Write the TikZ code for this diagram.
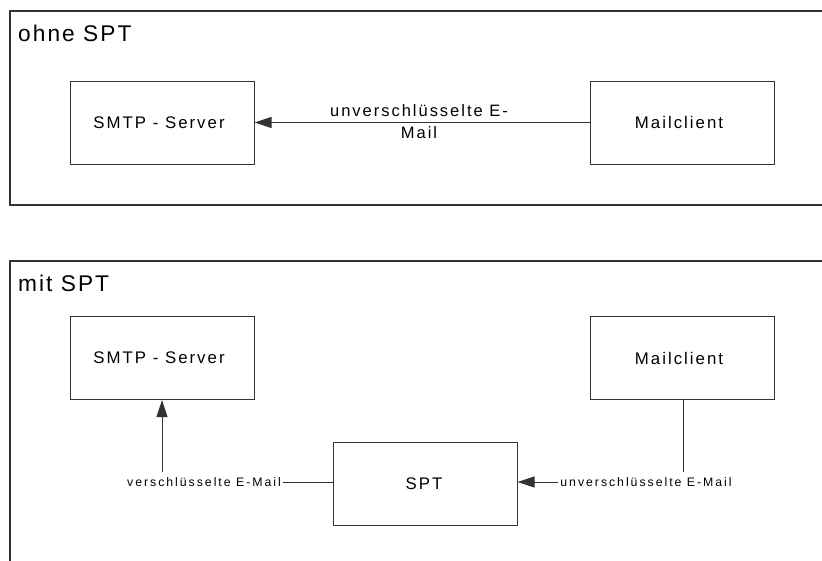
\documentclass[tikz,border=0pt]{standalone}
\usepackage{fontspec}
\setmainfont{Liberation Sans}
\newfontfamily\titlefont{Liberation Sans}[LetterSpace=9]
\newfontfamily\boxfont{Liberation Sans}[LetterSpace=12]
\newfontfamily\smallfont{Liberation Sans}[LetterSpace=16]
\usetikzlibrary{arrows.meta}

\begin{document}
\begin{tikzpicture}[x=1pt, y=-1pt,
  frame/.style={draw=black!80, line width=1.4pt},
  framelabel/.style={anchor=base west, inner sep=0pt, font=\titlefont\fontsize{22.7}{26}\selectfont},
  box/.style={draw=black!80, line width=1pt, minimum width=184pt, minimum height=83pt,
              inner sep=0pt, font=\boxfont\fontsize{16.8}{21.5}\selectfont},
  midlabel/.style={align=center, inner sep=0pt, font=\boxfont\fontsize{16.5}{21.5}\selectfont},
  sidelabel/.style={fill=white, inner xsep=2pt, inner ysep=0pt, minimum height=20pt,
                    font=\smallfont\fontsize{12.3}{14}\selectfont},
  conn/.style={draw=black!80, line width=1pt},
  arr/.style={conn, -{Triangle[length=17pt, width=11pt]}}]

\useasboundingbox (0,0) rectangle (822,560);
\clip (0,0) rectangle (822,560);

% --- without SPT: the mail client talks to the SMTP server directly
\draw[frame] (10,11) rectangle (840,205);
\node[framelabel] (titleA) at (18,41.5) {ohne SPT};

\node[box] (smtpA) at (162,122.5) {SMTP - Server\hspace*{6pt}};
\node[box] (mailA) at (682,122.5) {Mailclient\hspace*{6pt}};
\draw[arr] (mailA) -- (smtpA);
\node[midlabel] (plainA) at (419,121.5) {unverschlüsselte E-\\Mail};

% --- with SPT: the mail goes through the SPT, which encrypts it
\draw[frame] (10,261) rectangle (840,620);
\node[framelabel] (titleB) at (18,291) {mit SPT};

\node[box] (smtpB) at (162,358) {SMTP - Server\hspace*{6pt}};
\node[box] (mailB) at (682,358) {Mailclient\hspace*{6pt}};
\node[box] (spt)   at (425,483.5) {SPT\hspace*{2pt}};

\coordinate (leftbend)  at (162,482);
\coordinate (rightbend) at (683,482);

\draw[arr] (spt.west |- leftbend) -- (leftbend) -- (smtpB.south);
\draw[arr] (mailB.south -| rightbend) -- (rightbend) -- (spt.east |- rightbend);

\node[sidelabel] (encB)   at (204,482) {verschlüsselte E-Mail};
\node[sidelabel] (plainB) at (646,482) {unverschlüsselte E-Mail};
\end{tikzpicture}
\end{document}
